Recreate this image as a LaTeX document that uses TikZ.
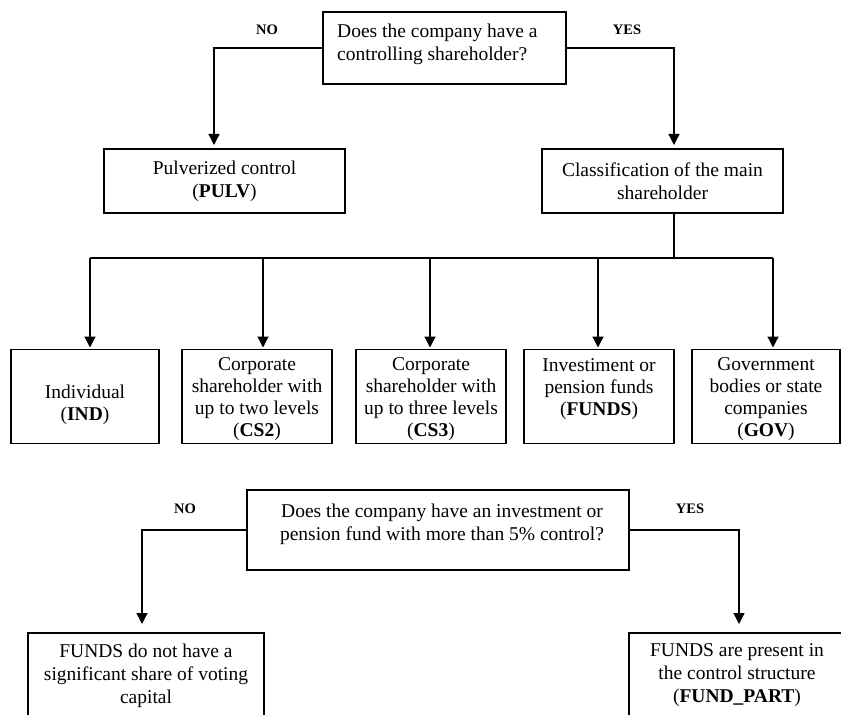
\documentclass[tikz,border=0pt]{standalone}
\usepackage{fontspec}
\setmainfont{Liberation Serif}
\usetikzlibrary{arrows.meta,calc}
\begin{document}
\begin{tikzpicture}[x=1bp,y=-1bp,
  box/.style={draw=black,line width=1.3bp,rectangle,inner sep=0pt,outer sep=0pt,align=center,font=\fontsize{19.5bp}{23bp}\selectfont},
  txt/.style={inner sep=0pt,font=\fontsize{19.5bp}{23bp}\selectfont},
  rowtxt/.style={inner sep=0pt,align=center,font=\fontsize{19.5bp}{22bp}\selectfont},
  lbl/.style={inner sep=0pt,font=\fontsize{14.5bp}{17bp}\selectfont\bfseries},
  conn/.style={line width=1.3bp},
  arr/.style={conn,-{Triangle[width=11bp,length=11bp]}}]
\useasboundingbox (0,0) rectangle (841,715);
\clip (0,0) rectangle (841,715);

% ---- first question
\node[box,minimum width=243bp,minimum height=72bp] (q1) at (444.5,48) {};
\node[txt,anchor=north west,align=left] (q1t) at ($(q1.north west)+(14,11.5)$) {Does the company have a\\controlling shareholder?};
\node[lbl] (no1) at (267,30) {NO};
\node[lbl] (yes1) at (627,30) {YES};

\node[box,minimum width=241bp,minimum height=64bp] (pulv) at (224.5,181) {Pulverized control\\(\textbf{PULV})};
\node[box,minimum width=241bp,minimum height=64bp] (cls) at (662.5,181) {Classification of the main\\shareholder};

\coordinate (nL) at (214,48);
\coordinate (nR) at (674,48);
\draw[arr,shorten >=4bp] (q1.west) -- (nL) -- (nL |- pulv.north);
\draw[arr,shorten >=4bp] (q1.east) -- (nR) -- (nR |- cls.north);

% ---- classification row
\node[box,minimum width=148bp,minimum height=94bp] (ind) at (85,396.5) {};
\node[box,minimum width=150bp,minimum height=94bp] (cs2) at (257,396.5) {};
\node[box,minimum width=150bp,minimum height=94bp] (cs3) at (431,396.5) {};
\node[box,minimum width=150bp,minimum height=94bp] (fnd) at (599,396.5) {};
\node[box,minimum width=148bp,minimum height=94bp] (gov) at (766,396.5) {};
\node[rowtxt] (indt) at ($(ind.center)+(0,8)$) {Individual\\(\textbf{IND})};
\node[rowtxt] (cs2t) at ($(cs2.center)+(0,3)$) {Corporate\\shareholder with\\up to two levels\\(\textbf{CS2})};
\node[rowtxt] (cs3t) at ($(cs3.center)+(0,3)$) {Corporate\\shareholder with\\up to three levels\\(\textbf{CS3})};
\node[rowtxt,anchor=north] (fndt) at ($(cs3t.north -| fnd.center)+(0,1)$) {Investiment or\\pension funds\\(\textbf{FUNDS})};
\node[rowtxt] (govt) at ($(gov.center)+(0,3)$) {Government\\bodies or state\\companies\\(\textbf{GOV})};

\coordinate (j0) at (674,258);
\coordinate (b1) at (90,258);
\coordinate (b2) at (263,258);
\coordinate (b3) at (430,258);
\coordinate (b4) at (598,258);
\coordinate (b5) at (773,258);
\draw[conn] (j0 |- cls.south) -- (j0);
\draw[conn] (b1) -- (b5);
\draw[arr,shorten >=2bp] (b1) -- (b1 |- ind.north);
\draw[arr,shorten >=2bp] (b2) -- (b2 |- cs2.north);
\draw[arr,shorten >=2bp] (b3) -- (b3 |- cs3.north);
\draw[arr,shorten >=2bp] (b4) -- (b4 |- fnd.north);
\draw[arr,shorten >=2bp] (b5) -- (b5 |- gov.north);

% ---- second question
\node[box,minimum width=382bp,minimum height=80bp] (q2) at (438,530) {};
\node[txt,anchor=north,align=center] (q2t) at ($(q2.north)+(4,13.5)$) {Does the company have an investment or\\pension fund with more than 5\% control?};
\node[lbl] (no2) at (185,509) {NO};
\node[lbl] (yes2) at (690,509) {YES};

\node[box,minimum width=236bp,minimum height=85bp] (fno) at (146,675.5) {FUNDS do not have a\\significant share of voting\\capital};
\node[box,minimum width=216bp,minimum height=85bp] (fyes) at (737,675.5) {FUNDS are present in\\the control structure\\(\textbf{FUND\_PART})};

\coordinate (mL) at (142,530);
\coordinate (mR) at (739,530);
\draw[arr,shorten >=9bp] (q2.west) -- (mL) -- (mL |- fno.north);
\draw[arr,shorten >=9bp] (q2.east) -- (mR) -- (mR |- fyes.north);
\end{tikzpicture}
\end{document}
